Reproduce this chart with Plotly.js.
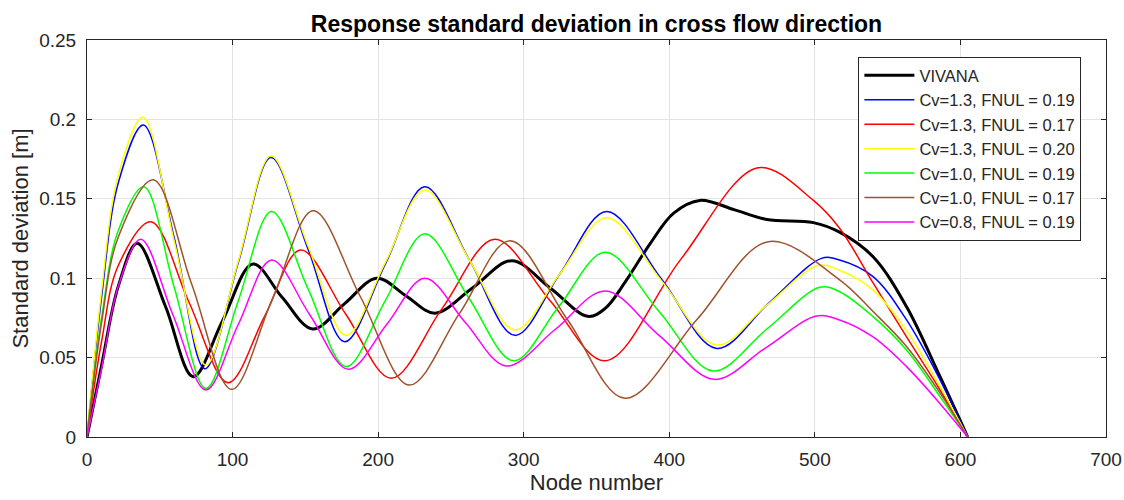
<!DOCTYPE html>
<html>
<head>
<meta charset="utf-8">
<script src="https://cdn.plot.ly/plotly-3.0.1.min.js"></script>
<style>html,body{margin:0;padding:0;background:#fff;}#chart{width:1124px;height:500px;}</style>
</head>
<body>
<div id="chart"></div>
<script>
var seriesNames = ["VIVANA", "Cv=1.3, FNUL = 0.19", "Cv=1.3, FNUL = 0.17", "Cv=1.3, FNUL = 0.20", "Cv=1.0, FNUL = 0.19", "Cv=1.0, FNUL = 0.17", "Cv=0.8, FNUL = 0.19"];

var vivanaX = [0, 10, 21.5, 34.5, 54, 73, 93, 114, 134, 155, 177, 199, 219, 239, 265, 291.7, 318, 344, 356, 370, 387, 403, 421, 445, 467, 499, 517, 540, 563, 586, 605];
var vivanaY = [0, 0.045, 0.095, 0.122, 0.082, 0.038, 0.073, 0.109, 0.088, 0.068, 0.084, 0.100, 0.089, 0.078, 0.094, 0.111, 0.094, 0.076, 0.081, 0.098, 0.122, 0.141, 0.149, 0.143, 0.137, 0.135, 0.129, 0.1135, 0.082, 0.038, 0];

var blue19X = [0, 10, 21.5, 38.7, 60, 81, 104, 126.4, 152, 177, 205, 232, 263, 294, 325, 357, 395, 432.5, 468, 504.6, 517, 540, 563, 586, 605];
var blue19Y = [0, 0.088, 0.160, 0.1965, 0.125, 0.043, 0.110, 0.176, 0.118, 0.060, 0.109, 0.1576, 0.111, 0.064, 0.103, 0.142, 0.099, 0.0558, 0.084, 0.1125, 0.1115, 0.101, 0.0737, 0.036, 0];

var red17X = [0, 10, 21.5, 44, 70, 97, 122, 146.8, 178, 209, 244, 280, 318, 356, 408, 461, 499, 517, 540, 563, 586, 605];
var red17Y = [0, 0.060, 0.108, 0.1356, 0.085, 0.0342, 0.076, 0.1178, 0.077, 0.037, 0.081, 0.1245, 0.086, 0.048, 0.112, 0.1696, 0.149, 0.1315, 0.097, 0.063, 0.0296, 0];

var yellow20X = [0, 10, 21.5, 38.4, 60, 81.7, 104, 126.4, 152, 178, 205, 232, 263, 294, 325, 357, 395, 432.5, 467, 502, 517, 540, 563, 586, 605];
var yellow20Y = [0, 0.092, 0.165, 0.2013, 0.123, 0.0453, 0.111, 0.177, 0.120, 0.064, 0.110, 0.1555, 0.111, 0.0674, 0.103, 0.138, 0.098, 0.058, 0.083, 0.108, 0.105, 0.0925, 0.067, 0.0317, 0];

var green19X = [0, 10, 21.5, 39, 60, 81.7, 104, 126.8, 152, 178, 205, 232, 262, 293, 324, 356, 393, 430, 467, 503.4, 517, 540, 563, 586, 605];
var green19Y = [0, 0.075, 0.130, 0.1576, 0.094, 0.0306, 0.086, 0.142, 0.093, 0.0443, 0.086, 0.128, 0.088, 0.048, 0.082, 0.1163, 0.079, 0.0416, 0.068, 0.0943, 0.0915, 0.0758, 0.0548, 0.0254, 0];

var brown17X = [0, 10, 21.5, 45.5, 72, 99.4, 127, 155.4, 188, 221.4, 256, 290.5, 330, 369.5, 419, 468, 517, 540, 563, 586, 605];
var brown17Y = [0, 0.072, 0.126, 0.162, 0.096, 0.030, 0.086, 0.1425, 0.088, 0.0327, 0.078, 0.1236, 0.074, 0.0244, 0.074, 0.123, 0.099, 0.079, 0.057, 0.0277, 0];

var magenta19X = [0, 10, 21.5, 37, 59, 81.7, 104, 126.8, 153, 179.5, 206, 232, 260, 288, 322, 356, 393, 431, 466, 501, 517, 540, 563, 586, 605];
var magenta19Y = [0, 0.043, 0.095, 0.1245, 0.077, 0.0296, 0.071, 0.1115, 0.077, 0.0426, 0.071, 0.100, 0.072, 0.0447, 0.068, 0.092, 0.064, 0.0363, 0.056, 0.0762, 0.0737, 0.063, 0.0443, 0.021, 0];

var xs = [vivanaX, blue19X, red17X, yellow20X, green19X, brown17X, magenta19X];
var ys = [vivanaY, blue19Y, red17Y, yellow20Y, green19Y, brown17Y, magenta19Y];
var colors = ["#000000", "#0000FF", "#FF0000", "#FFFF00", "#00FF00", "#A0522D", "#FF00FF"];
var widths = [3, 1.5, 1.5, 1.5, 1.5, 1.5, 1.5];

var traces = seriesNames.map(function (n, i) {
  return {
    x: xs[i], y: ys[i], name: n, type: 'scatter', mode: 'lines',
    legendgroup: 'g' + i,
    line: {color: colors[i], width: widths[i], shape: 'spline', smoothing: 1.0}
  };
});

var axColor = '#262626';
var layout = {
  width: 1124, height: 500,
  margin: {l: 87, r: 18, t: 40, b: 63},
  paper_bgcolor: '#ffffff', plot_bgcolor: '#ffffff',
  font: {family: 'Liberation Sans, Arial, sans-serif', size: 19, color: axColor},
  title: {text: '<b>Response standard deviation in cross flow direction</b>', x: 0.5, xref: 'paper', xanchor: 'center', y: 0.953, yanchor: 'middle',
          font: {size: 23, color: '#000000'}},
  xaxis: {range: [0, 700], dtick: 100, tick0: 0, showgrid: true, gridcolor: '#e3e3e3', gridwidth: 1,
          zeroline: false, showline: true, linecolor: axColor, linewidth: 1, mirror: 'ticks',
          ticks: 'inside', ticklen: 5, tickcolor: axColor, tickfont: {size: 19, color: axColor},
          ticklabelstandoff: 5,
          title: {text: 'Node number', font: {size: 22, color: axColor}, standoff: 5}},
  yaxis: {range: [0, 0.25], dtick: 0.05, tick0: 0, showgrid: true, gridcolor: '#e3e3e3', gridwidth: 1,
          zeroline: false, showline: true, linecolor: axColor, linewidth: 1, mirror: 'ticks',
          ticks: 'inside', ticklen: 5, tickcolor: axColor, tickfont: {size: 19, color: axColor},
          ticklabelstandoff: 6,
          title: {text: 'Standard deviation [m]', font: {size: 22, color: axColor}, standoff: 4}},
  legend: {x: 0.757, y: 0.957, xanchor: 'left', yanchor: 'top', bgcolor: '#ffffff',
           bordercolor: axColor, borderwidth: 1, font: {size: 16.5, color: axColor},
           tracegroupgap: 0, itemwidth: 50},
  showlegend: true
};

Plotly.newPlot('chart', traces, layout, {displayModeBar: false, staticPlot: true});
</script>
</body>
</html>
